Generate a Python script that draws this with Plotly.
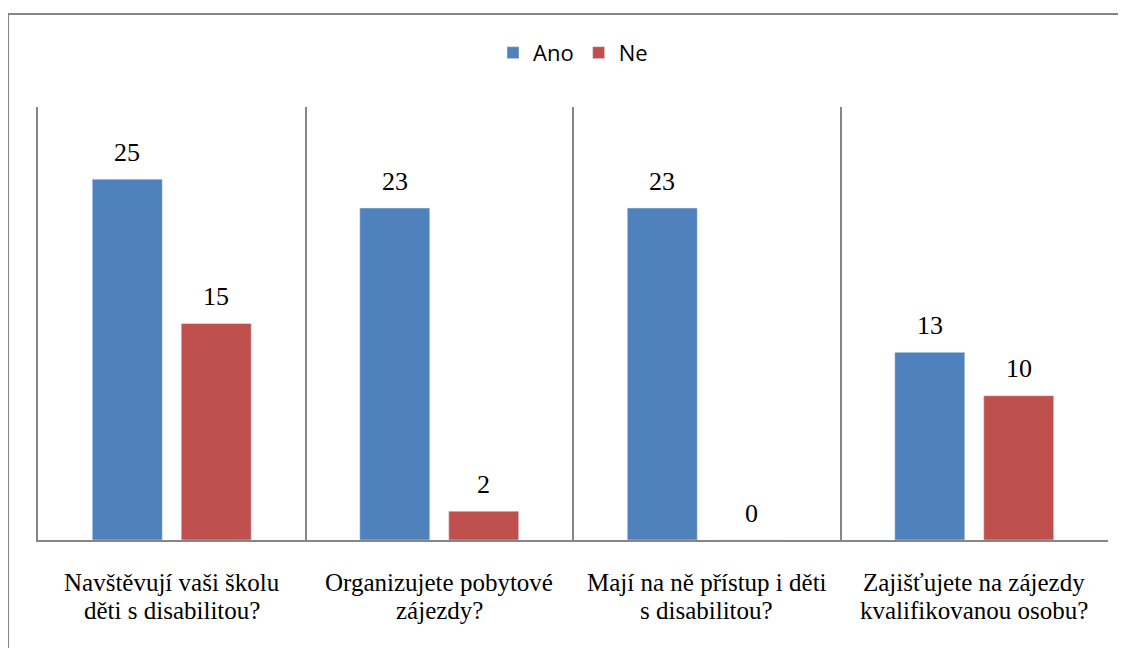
import plotly.graph_objects as go

categories = [
    "Navštěvují vaši školu<br>děti s disabilitou?",
    "Organizujete pobytové<br>zájezdy?",
    "Mají na ně přístup i děti<br>s disabilitou?",
    "Zajišťujete na zájezdy<br>kvalifikovanou osobu?",
]
ano = [25, 23, 23, 13]
ne = [15, 2, 0, 10]

BLUE = "#4F81BD"
RED = "#C0504D"
GREY = "#868686"
SERIF = "Liberation Serif"
SANS = "Open Sans"

fig = go.Figure()
fig.add_trace(go.Bar(name="Ano", x=categories, y=ano, marker_color=BLUE))
fig.add_trace(go.Bar(name="Ne", x=categories, y=ne, marker_color=RED))

annotations = []
# data labels sit well above the bars, like the Excel original
for values, shift in ((ano, -44.5), (ne, 44.5)):
    for cat, v in zip(categories, values):
        annotations.append(dict(
            x=cat, y=v, xref="x", yref="y", text=str(v), showarrow=False,
            xshift=shift, yshift=27, yanchor="middle",
            font=dict(family=SERIF, size=26, color="#000000"),
        ))

# category labels drawn line by line to get Word's tighter line spacing
for cat in categories:
    for i, line in enumerate(cat.split("<br>")):
        annotations.append(dict(
            x=cat, y=0, xref="x", yref="paper", text=line, showarrow=False,
            yanchor="middle", yshift=-42 - 28 * i,
            font=dict(family=SERIF, size=25, color="#000000"),
        ))

fig.update_layout(
    width=1126, height=648,
    margin=dict(l=30, r=26, t=99, b=116),
    paper_bgcolor="white", plot_bgcolor="white",
    barmode="group", bargap=0.335, bargroupgap=0.213,
    showlegend=True,
    legend=dict(orientation="h", x=0.5, xanchor="center", y=1.125, yanchor="middle",
                font=dict(family=SANS, size=22, color="#000000"),
                itemwidth=30, traceorder="normal"),
    annotations=annotations,
    shapes=[dict(type="rect", xref="paper", yref="paper",
                 x0=-0.028, x1=1.05, y0=-0.3, y1=1.2148,
                 line=dict(color=GREY, width=2), layer="below")],
)
fig.update_xaxes(
    showline=True, linecolor=GREY, linewidth=2,
    showgrid=True, gridcolor=GREY, gridwidth=1.5, tickson="boundaries",
    ticks="", showticklabels=False,
)
fig.update_yaxes(
    range=[0, 30], showline=True, linecolor=GREY, linewidth=2,
    showgrid=False, zeroline=False, showticklabels=False, ticks="",
)

fig.write_html("out.html")
